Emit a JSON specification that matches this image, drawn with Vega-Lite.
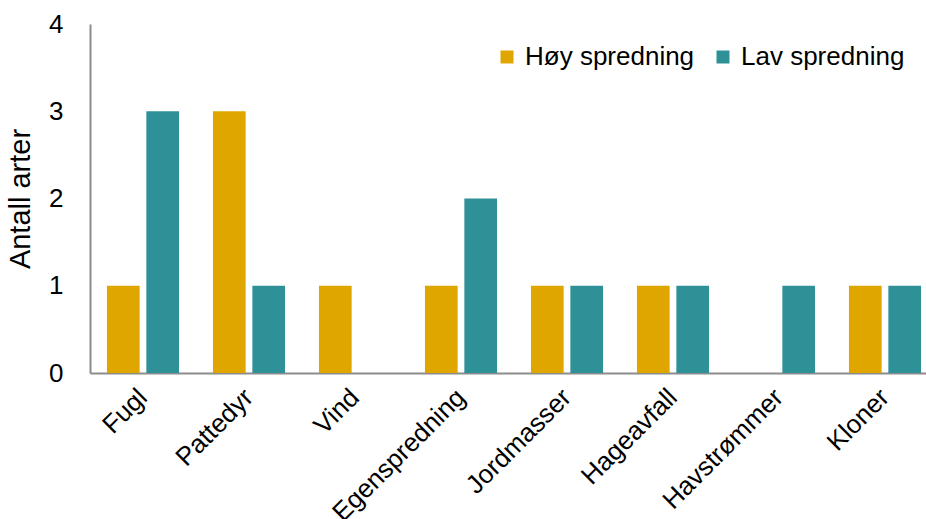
{
  "$schema": "https://vega.github.io/schema/vega-lite/v6.json",
  "autosize": "none",
  "width": 836,
  "height": 349,
  "padding": {"left": 90, "top": 24, "right": 0, "bottom": 146},
  "background": "white",
  "config": {
    "view": {"stroke": null},
    "font": "Liberation Sans",
    "axis": {"labelFont": "Liberation Sans", "titleFont": "Liberation Sans", "labelColor": "#000000", "titleColor": "#000000"},
    "legend": {"labelFont": "Liberation Sans"}
  },
  "data": {
    "values": [
      {"kategori": "Fugl", "gruppe": "Høy spredning", "antall": 1},
      {"kategori": "Fugl", "gruppe": "Lav spredning", "antall": 3},
      {"kategori": "Pattedyr", "gruppe": "Høy spredning", "antall": 3},
      {"kategori": "Pattedyr", "gruppe": "Lav spredning", "antall": 1},
      {"kategori": "Vind", "gruppe": "Høy spredning", "antall": 1},
      {"kategori": "Vind", "gruppe": "Lav spredning", "antall": 0},
      {"kategori": "Egenspredning", "gruppe": "Høy spredning", "antall": 1},
      {"kategori": "Egenspredning", "gruppe": "Lav spredning", "antall": 2},
      {"kategori": "Jordmasser", "gruppe": "Høy spredning", "antall": 1},
      {"kategori": "Jordmasser", "gruppe": "Lav spredning", "antall": 1},
      {"kategori": "Hageavfall", "gruppe": "Høy spredning", "antall": 1},
      {"kategori": "Hageavfall", "gruppe": "Lav spredning", "antall": 1},
      {"kategori": "Havstrømmer", "gruppe": "Høy spredning", "antall": 0},
      {"kategori": "Havstrømmer", "gruppe": "Lav spredning", "antall": 1},
      {"kategori": "Kloner", "gruppe": "Høy spredning", "antall": 1},
      {"kategori": "Kloner", "gruppe": "Lav spredning", "antall": 1}
    ]
  },
  "mark": {"type": "bar"},
  "encoding": {
    "x": {
      "field": "kategori",
      "type": "nominal",
      "sort": null,
      "scale": {"range": [0, 848], "paddingInner": 0.32, "paddingOuter": 0.16},
      "axis": {
        "title": null,
        "labelAngle": -45,
        "labelAlign": "right",
        "labelBaseline": "middle",
        "labelFontSize": 26,
        "labelPadding": 20,
        "labelLimit": 400,
        "ticks": false,
        "domainColor": "#8c8c8c",
        "domainWidth": 2,
        "grid": false
      }
    },
    "xOffset": {
      "field": "gruppe",
      "type": "nominal",
      "scale": {"paddingInner": 0.17, "paddingOuter": 0}
    },
    "y": {
      "field": "antall",
      "type": "quantitative",
      "scale": {"domain": [0, 4], "nice": false},
      "axis": {
        "title": "Antall arter",
        "titleFontSize": 29,
        "titleFontWeight": "normal",
        "titlePadding": 13,
        "values": [0, 1, 2, 3, 4],
        "format": "d",
        "labelFontSize": 26,
        "labelPadding": 27,
        "ticks": false,
        "grid": false,
        "domainColor": "#8c8c8c",
        "domainWidth": 2
      }
    },
    "color": {
      "field": "gruppe",
      "type": "nominal",
      "scale": {"domain": ["Høy spredning", "Lav spredning"], "range": ["#DFA600", "#2E9198"]},
      "legend": {
        "title": null,
        "orient": "none",
        "direction": "horizontal",
        "legendX": 404,
        "legendY": 20,
        "padding": 0,
        "symbolType": "square",
        "symbolSize": 169,
        "symbolStrokeWidth": 0,
        "labelFontSize": 26,
        "labelOffset": 5,
        "labelLimit": 400,
        "columnPadding": 15,
        "labelColor": "#000000"
      }
    }
  }
}
